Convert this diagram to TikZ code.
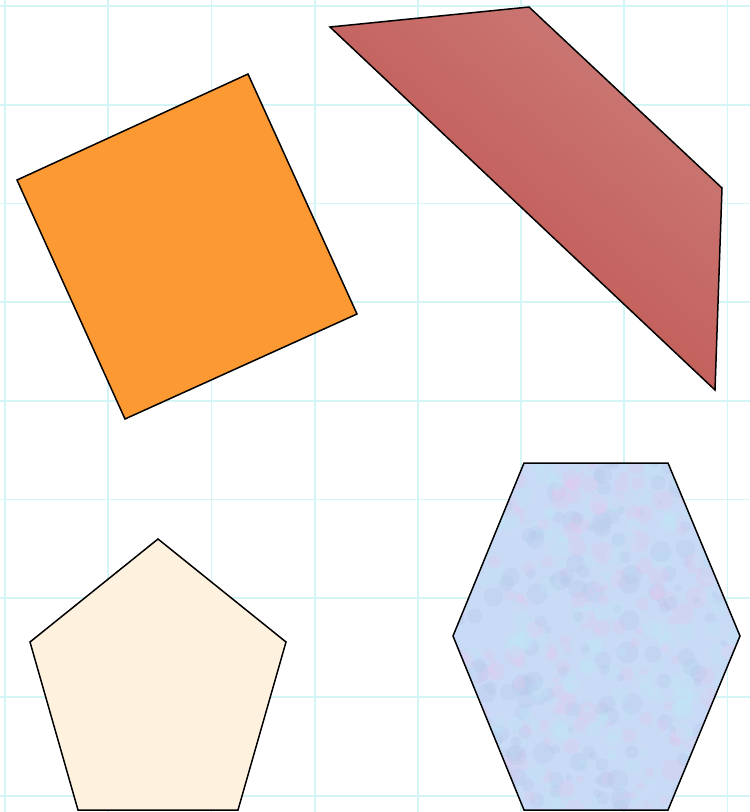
\documentclass[tikz,border=0pt]{standalone}
\usetikzlibrary{calc}
\definecolor{gridc}{RGB}{212,245,245}
\definecolor{orangec}{RGB}{253,153,51}
\definecolor{reddark}{RGB}{190,78,74}
\definecolor{redlight}{RGB}{203,122,118}
\definecolor{creamc}{RGB}{254,242,222}
\definecolor{hexc}{RGB}{200,218,245}
\definecolor{hexpink}{RGB}{228,200,240}
\definecolor{hexcyan}{RGB}{192,232,248}
\definecolor{hexblue}{RGB}{178,198,232}
\tikzset{
  shapeline/.style={draw=black, line width=1.5pt, line join=miter},
  gridline/.style={draw=gridc, line width=1.8pt}
}
\begin{document}
\begin{tikzpicture}[x=1pt,y=-1pt]
\useasboundingbox (0,0) rectangle (750,812);
\fill[white] (0,0) rectangle (750,812);
% grid
\foreach \i in {0,...,7} {
  \draw[gridline] ({5+103.2*\i},0) -- ({5+103.2*\i},812);
}
\foreach \j in {0,...,8} {
  \draw[gridline] (0,{6+98.7*\j}) -- (750,{6+98.7*\j});
}
% square
\filldraw[shapeline, fill=orangec] (17,180) -- (248,74) -- (357,314) -- (125,419) -- cycle;
% red quadrilateral
\shade[top color=redlight, bottom color=reddark, shading angle=-40] (330,27) -- (529,7) -- (722,188) -- (715,390) -- cycle;
\draw[shapeline] (330,27) -- (529,7) -- (722,188) -- (715,390) -- cycle;
% pentagon
\filldraw[shapeline, fill=creamc] (158,539) -- (286,642) -- (238,810) -- (78,810) -- (30,642) -- cycle;
% hexagon
\begin{scope}
  \clip (524,463) -- (668,463) -- (740,636) -- (668,810) -- (524,810) -- (453,636) -- cycle;
  \fill[hexc] (440,450) rectangle (750,812);
  \pgfmathsetseed{7}
  \foreach \k in {1,...,500} {
    \pgfmathsetmacro{\px}{450+290*rnd}
    \pgfmathsetmacro{\py}{460+352*rnd}
    \pgfmathsetmacro{\pr}{3+8*rnd}
    \pgfmathtruncatemacro{\pc}{3*rnd}
    \ifcase\pc
      \fill[hexpink, opacity=0.3] (\px,\py) circle (\pr);
    \or
      \fill[hexcyan, opacity=0.3] (\px,\py) circle (\pr);
    \else
      \fill[hexblue, opacity=0.25] (\px,\py) circle (\pr);
    \fi
  }
\end{scope}
\draw[shapeline] (524,463) -- (668,463) -- (740,636) -- (668,810) -- (524,810) -- (453,636) -- cycle;
\end{tikzpicture}
\end{document}
